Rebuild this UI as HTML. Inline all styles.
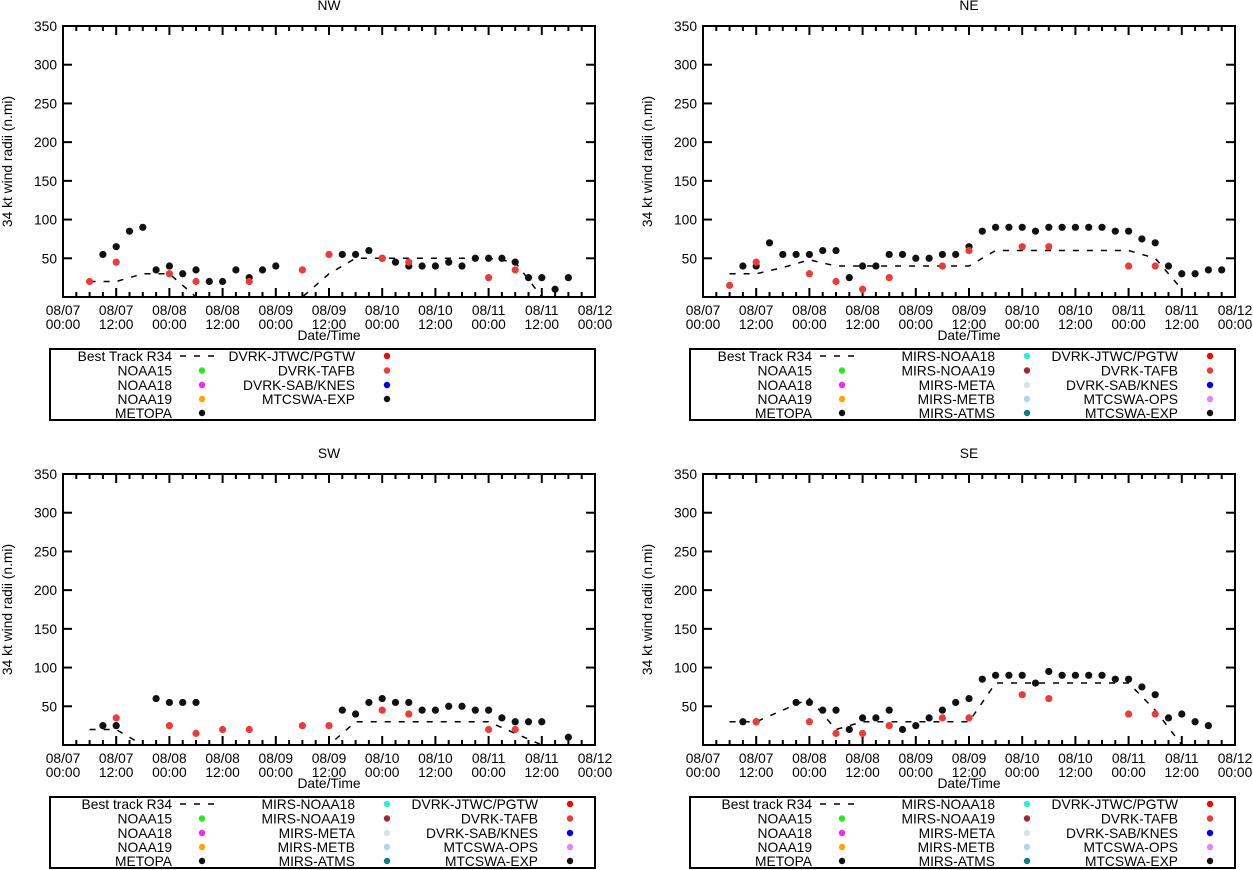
<!DOCTYPE html>
<html><head><meta charset="utf-8"><style>
html,body{margin:0;padding:0;background:#fff;}
svg{display:block;font-family:"Liberation Sans",sans-serif;}
text{font-size:13.8px;fill:#000;}
</style></head><body>
<svg id="chart" width="1253" height="870" viewBox="0 0 1253 870" xmlns="http://www.w3.org/2000/svg"></svg>
<script>
// ---- data (hours since 08/07 00:00, radius n.mi) ----
const xTickLabelsTop = ["08/07","08/07","08/08","08/08","08/09","08/09","08/10","08/10","08/11","08/11","08/12"];
const xTickLabelsBot = ["00:00","12:00","00:00","12:00","00:00","12:00","00:00","12:00","00:00","12:00","00:00"];
const yTicks = [50,100,150,200,250,300,350];

const nwBestH = [6,12,18,24,30,36,42,48,54,60,66,72,78,84,90,96,102,108];
const nwBestV = [20,20,30,30,0,0,0,0,0,30,50,50,50,50,50,50,45,0];
const nwExpH = [9,12,15,18,21,24,27,30,33,36,39,42,45,48,63,66,69,72,75,78,81,84,87,90,93,96,99,102,105,108,111,114];
const nwExpV = [55,65,85,90,35,40,30,35,20,20,35,25,35,40,55,55,60,50,45,40,40,40,45,40,50,50,50,45,25,25,10,25];
const nwTafbH = [6,12,24,30,42,54,60,72,78,96,102];
const nwTafbV = [20,45,30,20,20,35,55,50,45,25,35];

const neBestH = [6,12,18,24,30,36,42,48,54,60,66,72,78,84,90,96,102,108];
const neBestV = [30,30,38,48,40,40,40,40,40,40,60,60,60,60,60,60,50,10];
const neExpH = [9,12,15,18,21,24,27,30,33,36,39,42,45,48,51,54,57,60,63,66,69,72,75,78,81,84,87,90,93,96,99,102,105,108,111,114,117];
const neExpV = [40,40,70,55,55,55,60,60,25,40,40,55,55,50,50,55,55,65,85,90,90,90,85,90,90,90,90,90,85,85,75,70,40,30,30,35,35];
const neTafbH = [6,12,24,30,36,42,54,60,72,78,96,102];
const neTafbV = [15,45,30,20,10,25,40,60,65,65,40,40];

const swBestH = [6,12,18,24,36,48,60,66,72,78,84,90,96,108];
const swBestV = [20,20,0,0,0,0,0,30,30,30,30,30,30,0];
const swExpH = [9,12,21,24,27,30,63,66,69,72,75,78,81,84,87,90,93,96,99,102,105,108,114];
const swExpV = [25,25,60,55,55,55,45,40,55,60,55,55,45,45,50,50,45,45,35,30,30,30,10];
const swTafbH = [12,24,30,36,42,54,60,72,78,96,102];
const swTafbV = [35,25,15,20,20,25,25,45,40,20,20];

const seBestH = [6,12,18,24,30,36,42,48,54,60,66,72,78,84,90,96,102,108];
const seBestV = [30,30,45,60,20,30,30,30,30,30,80,80,80,80,80,80,45,0];
const seExpH = [9,12,21,24,27,30,33,36,39,42,45,48,51,54,57,60,63,66,69,72,75,78,81,84,87,90,93,96,99,102,105,108,111,114];
const seExpV = [30,30,55,55,45,45,20,35,35,45,20,25,35,45,55,60,85,90,90,90,80,95,90,90,90,90,85,85,75,65,35,40,30,25];
const seTafbH = [12,24,30,36,42,54,60,72,78,96,102];
const seTafbV = [30,30,15,15,25,35,35,65,60,40,40];

const NS="http://www.w3.org/2000/svg";
const svg=document.getElementById('chart');
function mk(tag,attrs,parent){const e=document.createElementNS(NS,tag);for(const k in attrs)e.setAttribute(k,attrs[k]);(parent||svg).appendChild(e);return e;}
function txt(x,y,s,anchor,parent){const t=mk('text',{x:x,y:y,'text-anchor':anchor||'start'},parent);t.textContent=s;return t;}

const panels=[
 {id:'nw',title:'NW',x0:63,x1:595,y0:26,y1:297,best:[nwBestH,nwBestV],exp:[nwExpH,nwExpV],tafb:[nwTafbH,nwTafbV],bestLabel:'Best Track R34',full:false},
 {id:'ne',title:'NE',x0:703,x1:1235,y0:26,y1:297,best:[neBestH,neBestV],exp:[neExpH,neExpV],tafb:[neTafbH,neTafbV],bestLabel:'Best Track R34',full:true},
 {id:'sw',title:'SW',x0:63,x1:595,y0:474,y1:745,best:[swBestH,swBestV],exp:[swExpH,swExpV],tafb:[swTafbH,swTafbV],bestLabel:'Best track R34',full:true},
 {id:'se',title:'SE',x0:703,x1:1235,y0:474,y1:745,best:[seBestH,seBestV],exp:[seExpH,seExpV],tafb:[seTafbH,seTafbV],bestLabel:'Best track R34',full:true}
];

panels.forEach(p=>{
 const g=mk('g',{});
 
 
 const xs=h=>p.x0+(h/120)*(p.x1-p.x0);
 const ys=v=>p.y1-(v/350)*(p.y1-p.y0);
 const cx=(p.x0+p.x1)/2;
 const t=txt(cx,p.y0-16,p.title,'middle',g);
 
 
 const cp=mk('clipPath',{id:'clip-'+p.id},g);
 mk('rect',{x:p.x0,y:p.y0,width:p.x1-p.x0,height:p.y1-p.y0},cp);
 for(let h=0;h<=120;h+=3){
  const major=h%12===0;const L=major?9:5;const x=xs(h);
  mk('line',{x1:x,x2:x,y1:p.y1,y2:p.y1-L,stroke:'#000','stroke-width':2},g);
  mk('line',{x1:x,x2:x,y1:p.y0,y2:p.y0+L,stroke:'#000','stroke-width':2},g);
 }
 xTickLabelsTop.forEach((s,i)=>{
  const x=xs(i*12);
  const a=txt(x,p.y1+18,s,'middle',g);
  
  
  txt(x,p.y1+32,xTickLabelsBot[i],'middle',g);
 });
 yTicks.forEach(v=>{
  const y=ys(v);
  mk('line',{x1:p.x0,x2:p.x0+9,y1:y,y2:y,stroke:'#000','stroke-width':2},g);
  mk('line',{x1:p.x1,x2:p.x1-9,y1:y,y2:y,stroke:'#000','stroke-width':2},g);
  const a=txt(p.x0-6,y+5,String(v),'end',g);
  
  
 });
 const xl=txt(cx,p.y1+43,'Date/Time','middle',g);
 
 
 const ymid=(p.y0+p.y1)/2;const yx=p.x0-51;
 const yl=txt(yx,ymid,'34 kt wind radii (n.mi)','middle',g);
 yl.setAttribute('transform','rotate(-90 '+yx+' '+ymid+')');
 
 
 const dg=mk('g',{'clip-path':'url(#clip-'+p.id+')'},g);
 const pts=p.best[0].map((h,i)=>xs(h)+','+ys(p.best[1][i])).join(' ');
 const bl=mk('polyline',{points:pts,fill:'none',stroke:'#000','stroke-width':1.5,'stroke-dasharray':'6,8'},dg);
 
 
 p.exp[0].forEach((h,i)=>{
  const c=mk('circle',{cx:xs(h),cy:ys(p.exp[1][i]),r:3.6,fill:'#111'},g);
  
  
 });
 p.tafb[0].forEach((h,i)=>{
  const c=mk('circle',{cx:xs(h),cy:ys(p.tafb[1][i]),r:3.6,fill:'#ee3a3a'},g);
  
  
 });
 const fr=mk('rect',{x:p.x0,y:p.y0,width:p.x1-p.x0,height:p.y1-p.y0,fill:'none',stroke:'#000','stroke-width':2},g);
 
 
 const lx=p.x0-13, ly=p.y1+52;
 const lg=mk('g',{});
 
 
 mk('rect',{x:lx,y:ly,width:p.x1-lx,height:71,fill:'none',stroke:'#000','stroke-width':2},lg);
 const rows=[7,21.5,36,50,64].map(d=>ly+d);
 let cols;
 if(p.full){
  cols=[
   [[p.bestLabel,'dash'],['NOAA15','#22ee22'],['NOAA18','#ff22ff'],['NOAA19','#ffa500'],['METOPA','#111']],
   [['MIRS-NOAA18','#22eeee'],['MIRS-NOAA19','#a52a2a'],['MIRS-META','#e0e0e0'],['MIRS-METB','#add8e6'],['MIRS-ATMS','#088080']],
   [['DVRK-JTWC/PGTW','#ff0000'],['DVRK-TAFB','#ee3a3a'],['DVRK-SAB/KNES','#0000ee'],['MTCSWA-OPS','#ee82ee'],['MTCSWA-EXP','#111']]
  ];
 } else {
  cols=[
   [[p.bestLabel,'dash'],['NOAA15','#22ee22'],['NOAA18','#ff22ff'],['NOAA19','#ffa500'],['METOPA','#111']],
   [['DVRK-JTWC/PGTW','#ff0000'],['DVRK-TAFB','#ee3a3a'],['DVRK-SAB/KNES','#0000ee'],['MTCSWA-EXP','#111']]
  ];
 }
 const offs=[[122,152],[305,337],[488,520]];
 cols.forEach((col,ci)=>{
  col.forEach((e,ri)=>{
   const y=rows[ri];
   const t=txt(lx+offs[ci][0],y+5,e[0],'end',lg);
   
   
   if(e[1]==='dash'){
    mk('line',{x1:lx+130,x2:lx+168,y1:y,y2:y,stroke:'#000','stroke-width':1.5,'stroke-dasharray':'6,8'},lg);
   } else {
    mk('circle',{cx:lx+offs[ci][1],cy:y,r:3.2,fill:e[1]},lg);
   }
  });
 });
});
</script>
</body></html>
